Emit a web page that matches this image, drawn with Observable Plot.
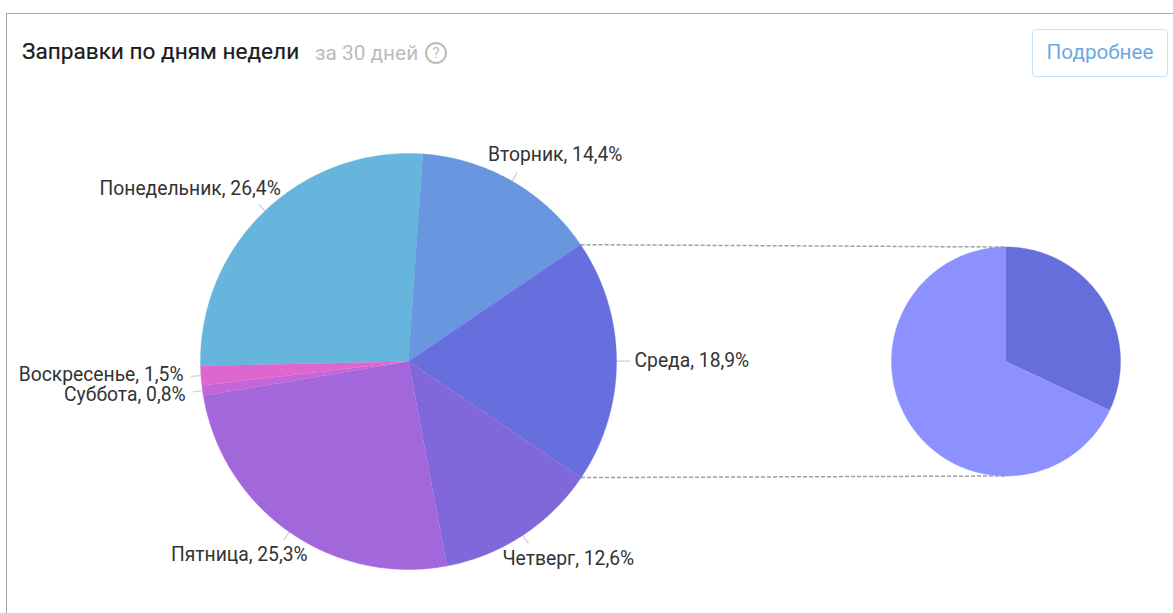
<!DOCTYPE html>
<html lang="ru">
<head>
<meta charset="utf-8">
<title>Заправки по дням недели</title>
<script src="https://cdn.jsdelivr.net/npm/d3@7"></script>
<script src="https://cdn.jsdelivr.net/npm/@observablehq/plot@0.6"></script>
<style>
  html, body { margin: 0; padding: 0; background: #fff; }
  #card { position: relative; width: 1173px; height: 613px; overflow: hidden; font-family: Roboto, sans-serif; }
  #frame { position: absolute; left: 6px; top: 13px; right: -5px; bottom: -5px; border-top: 1.5px solid #a8a8a8; border-left: 1.5px solid #a8a8a8; pointer-events: none; z-index: 2; }
  #head { position: relative; height: 90px; }
  #title { position: absolute; left: 22px; top: 39px; font-size: 22.6px; line-height: 26px; color: #1c1c1c; white-space: nowrap; -webkit-text-stroke: 0.2px #1c1c1c; }
  #period { position: absolute; left: 315px; top: 40px; font-size: 20.8px; line-height: 26px; color: #bcbcbc; white-space: nowrap; }
  #help { position: absolute; left: 425px; top: 42px; box-sizing: border-box; width: 22px; height: 22px; border: 2px solid #bcbcbc; border-radius: 50%; font-size: 15px; line-height: 18px; text-align: center; color: #bcbcbc; }
  #more { position: absolute; left: 1032px; top: 29px; box-sizing: border-box; width: 136px; height: 48px; border: 1.5px solid #c4e2f8; border-radius: 4px; font-size: 20.7px; line-height: 45px; text-align: center; color: #6ea8e2; }
  #chart svg { display: block; background: transparent; }
</style>
</head>
<body>
<div id="card">
  <div id="frame"></div>
  <div id="head">
    <div id="title">Заправки по дням недели</div>
    <div id="period">за 30 дней</div>
    <div id="help">?</div>
    <div id="more">Подробнее</div>
  </div>
  <div id="chart"></div>
</div>
<script>
// Data
const days = ["Понедельник", "Вторник", "Среда", "Четверг", "Пятница", "Суббота", "Воскресенье"];
const shares = [26.4, 14.4, 18.9, 12.6, 25.3, 0.8, 1.5];
const shareLabels = ["26,4%", "14,4%", "18,9%", "12,6%", "25,3%", "0,8%", "1,5%"];
const dayColors = ["#66b5dc", "#6896df", "#676fde", "#8068db", "#a267db", "#c266da", "#de66cf"];
const detailParts = ["Часть 1", "Часть 2"];
const detailShares = [32, 68];
const detailColors = ["#666edb", "#8c91ff"];

// Layout
const W = 1173, H = 523, HEAD = 90;
const main = {cx: 408, cy: 361 - HEAD, r: 208, start: 268.8};
const small = {cx: 1005.5, cy: 361 - HEAD, r: 114.5, start: 0};
const rad = d => d * Math.PI / 180;
const polar = (p, a, r) => [p.cx + r * Math.sin(rad(a)), p.cy - r * Math.cos(rad(a))];

function slices(p, names, values) {
  const total = d3.sum(values);
  let a = p.start;
  return names.map((name, i) => {
    const a0 = a, a1 = a + values[i] / total * 360;
    a = a1;
    return {name, a0, a1, mid: (a0 + a1) / 2};
  });
}
function wedgePoints(p, s) {
  const pts = [{name: s.name, x: p.cx, y: p.cy}];
  const n = Math.ceil(s.a1 - s.a0) * 2;
  for (let i = 0; i <= n; ++i) {
    const [x, y] = polar(p, s.a0 + (s.a1 - s.a0) * i / n, p.r);
    pts.push({name: s.name, x, y});
  }
  return pts;
}

const mainSlices = slices(main, days, shares);
const smallSlices = slices(small, detailParts, detailShares);
const wedges = [
  ...mainSlices.flatMap(s => wedgePoints(main, s)),
  ...smallSlices.flatMap(s => wedgePoints(small, s))
];

// Label placement relative to the slice's leader end: [dx, dy, anchor, leader length]
const placement = {
  "Понедельник": [22, -15.5, "end", 9],
  "Вторник":     [-29, -18, "start", 10],
  "Среда":       [4, 0, "start", 14],
  "Четверг":     [-26, 15, "start", 10],
  "Пятница":     [24, 15, "end", 10],
  "Суббота":     [-7, 2.5, "end", 10],
  "Воскресенье": [-7.5, -1.5, "end", 10]
};
const leaderEnd = s => polar(main, s.mid, main.r + placement[s.name][3]);
const leaders = mainSlices.map(s => {
  const [x1, y1] = polar(main, s.mid, main.r);
  const [x2, y2] = leaderEnd(s);
  return {x1, y1, x2, y2};
});
const labels = mainSlices.map((s, i) => {
  const [x, y] = leaderEnd(s);
  const [dx, dy, anchor] = placement[s.name];
  return {x: x + dx, y: y + dy, anchor, text: `${s.name}, ${shareLabels[i]}`};
});

const wed = mainSlices[2];
const connectors = [
  {from: polar(main, wed.a0, main.r), to: polar(small, 0, small.r)},
  {from: polar(main, wed.a1, main.r), to: polar(small, 180, small.r)}
].map(({from, to}) => ({x1: from[0], y1: from[1], x2: to[0], y2: to[1]}));

const textMark = anchor => Plot.text(labels.filter(d => d.anchor === anchor), {
  x: "x", y: "y", text: "text", textAnchor: anchor,
  fontSize: 19.3, fill: "#333", fontFamily: "Roboto, sans-serif"
});

const plot = Plot.plot({
  width: W, height: H,
  margin: 0,
  style: {background: "transparent"},
  x: {domain: [0, W], range: [0, W], axis: null},
  y: {domain: [0, H], range: [0, H], axis: null},
  color: {domain: [...days, ...detailParts], range: [...dayColors, ...detailColors]},
  marks: [
    Plot.link(leaders, {x1: "x1", y1: "y1", x2: "x2", y2: "y2", stroke: "#cfcfcf", strokeWidth: 1.2}),
    Plot.link(connectors, {x1: "x1", y1: "y1", x2: "x2", y2: "y2", stroke: "#a0a0a0", strokeWidth: 1.5, strokeDasharray: "4,2"}),
    Plot.line(wedges, {x: "x", y: "y", z: "name", fill: "name", stroke: "name", strokeWidth: 0.4}),
    textMark("start"),
    textMark("end")
  ]
});
document.getElementById("chart").appendChild(plot);
</script>
</body>
</html>
